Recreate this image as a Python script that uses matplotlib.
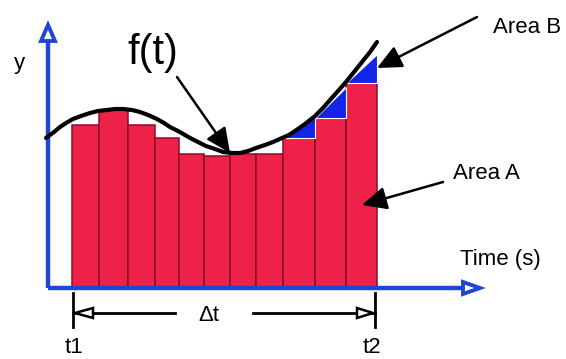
import matplotlib
matplotlib.use("Agg")
import matplotlib.pyplot as plt
from matplotlib.patches import Polygon

plt.rcParams['font.family'] = ['Liberation Sans', 'DejaVu Sans']

# f(t) sampled along the curve (t from the y axis, f up from the time axis)
curve_t = [-2, 6, 12, 18, 25, 33, 42, 50, 59, 67, 75, 84, 92, 100, 109, 116,
           122, 130, 137, 144, 150, 158, 167, 175, 184, 192, 200, 208, 217,
           225, 234, 241, 247, 257, 267, 275, 282, 290, 298, 306, 314, 322, 329]
curve_f = [150, 156, 161, 165, 169, 172, 175, 177, 178, 179, 179, 178, 176,
           173, 169, 165, 161, 157, 153, 149, 146, 142, 139, 136, 135, 135,
           137, 140, 143, 146, 150, 153, 157, 164, 172, 180, 188, 197, 206,
           216, 226, 236, 246]

# Rectangles approximating the area (Area A)
bar_edges = [24, 51, 80, 107, 131, 156, 182, 208, 235, 267, 298, 329]
bar_heights = [163, 178, 163, 150, 134, 132, 134, 134, 150, 170, 205]

# Missing slivers above the last three rectangles (Area B): height at right edge
sliver_bars = [8, 9, 10]
sliver_tops = [172, 201, 234]

t1_pos, t2_pos = 25, 327

RED = '#ee2149'
EDGE = '#8a0a2a'
BLUE = '#1224e6'
AXIS = '#1f45d6'

fig = plt.figure(figsize=(5.66, 3.59), dpi=100)
ax = fig.add_axes([0, 0, 1, 1])
ax.set_xlim(-48, 518)
ax.set_ylim(-71, 288)
ax.axis('off')

# bars
for i, h in enumerate(bar_heights):
    left, right = bar_edges[i], bar_edges[i + 1]
    ax.bar(left, h, width=right - left, align='edge', color=RED,
           edgecolor=EDGE, linewidth=1.1, zorder=2)

# Area B slivers
for i, top in zip(sliver_bars, sliver_tops):
    left, right = bar_edges[i], bar_edges[i + 1]
    h = bar_heights[i]
    ax.add_patch(Polygon([(left, h), (right, h), (right, top)], closed=True,
                         facecolor=BLUE, edgecolor='white', linewidth=0.8,
                         zorder=3))

# axes with open arrow heads
ax.plot([0, 0], [0, 246], color=AXIS, lw=3.2, solid_capstyle='butt', zorder=4)
ax.plot([0, 415], [0, 0], color=AXIS, lw=3.2, solid_capstyle='butt', zorder=4)
ax.add_patch(Polygon([(-7, 247), (7, 247), (0, 263)], closed=True,
                     facecolor='white', edgecolor=AXIS, linewidth=2.8, zorder=5))
ax.add_patch(Polygon([(415, 6), (415, -6), (432, 0)], closed=True,
                     facecolor='white', edgecolor=AXIS, linewidth=2.8, zorder=5))

# f(t)
ax.plot(curve_t, curve_f, color='black', lw=3.0, solid_joinstyle='round',
        solid_capstyle='round', zorder=6)

# Δt dimension line
dim_f = -25
for tx in (t1_pos, t2_pos):
    ax.plot([tx, tx], [-5, -39], color='black', lw=2.0, zorder=4)
ax.plot([t1_pos, 127], [dim_f, dim_f], color='black', lw=2.0, zorder=4)
ax.plot([205, t2_pos], [dim_f, dim_f], color='black', lw=2.0, zorder=4)
ax.add_patch(Polygon([(t1_pos + 2, dim_f), (t1_pos + 20, dim_f + 5),
                      (t1_pos + 20, dim_f - 5)], closed=True,
                     facecolor='white', edgecolor='black', linewidth=1.8, zorder=5))
ax.add_patch(Polygon([(t2_pos - 2, dim_f), (t2_pos - 18, dim_f + 5),
                      (t2_pos - 18, dim_f - 5)], closed=True,
                     facecolor='white', edgecolor='black', linewidth=1.8, zorder=5))

# annotation arrows
arrow_kw = dict(arrowstyle='-|>,head_length=0.75,head_width=0.35',
                color='black', lw=1.8, mutation_scale=20, shrinkA=0, shrinkB=0)
ax.annotate('', xy=(182, 135), xytext=(129, 211), arrowprops=arrow_kw, zorder=7)
ax.annotate('', xy=(329, 220), xytext=(429, 271), arrowprops=arrow_kw, zorder=7)
ax.annotate('', xy=(314, 83), xytext=(395, 106), arrowprops=arrow_kw, zorder=7)

# labels
fs = 16
ax.text(-29, 219.5, 'y', fontsize=fs, ha='center', va='baseline')
ax.text(105, 224, 'f(t)', fontsize=30, ha='center', va='baseline')
ax.text(445, 255, 'Area B', fontsize=fs, ha='left', va='baseline')
ax.text(405, 109, 'Area A', fontsize=fs, ha='left', va='baseline')
ax.text(412, 23, 'Time (s)', fontsize=fs, ha='left', va='baseline')
ax.text(t1_pos + 1, -65, 't1', fontsize=fs, ha='center', va='baseline')
ax.text(t2_pos - 3, -65, 't2', fontsize=fs, ha='center', va='baseline')
ax.text(161, -33, 'Δt', fontsize=fs, ha='center', va='baseline')

fig.savefig('out.png', dpi=100)
